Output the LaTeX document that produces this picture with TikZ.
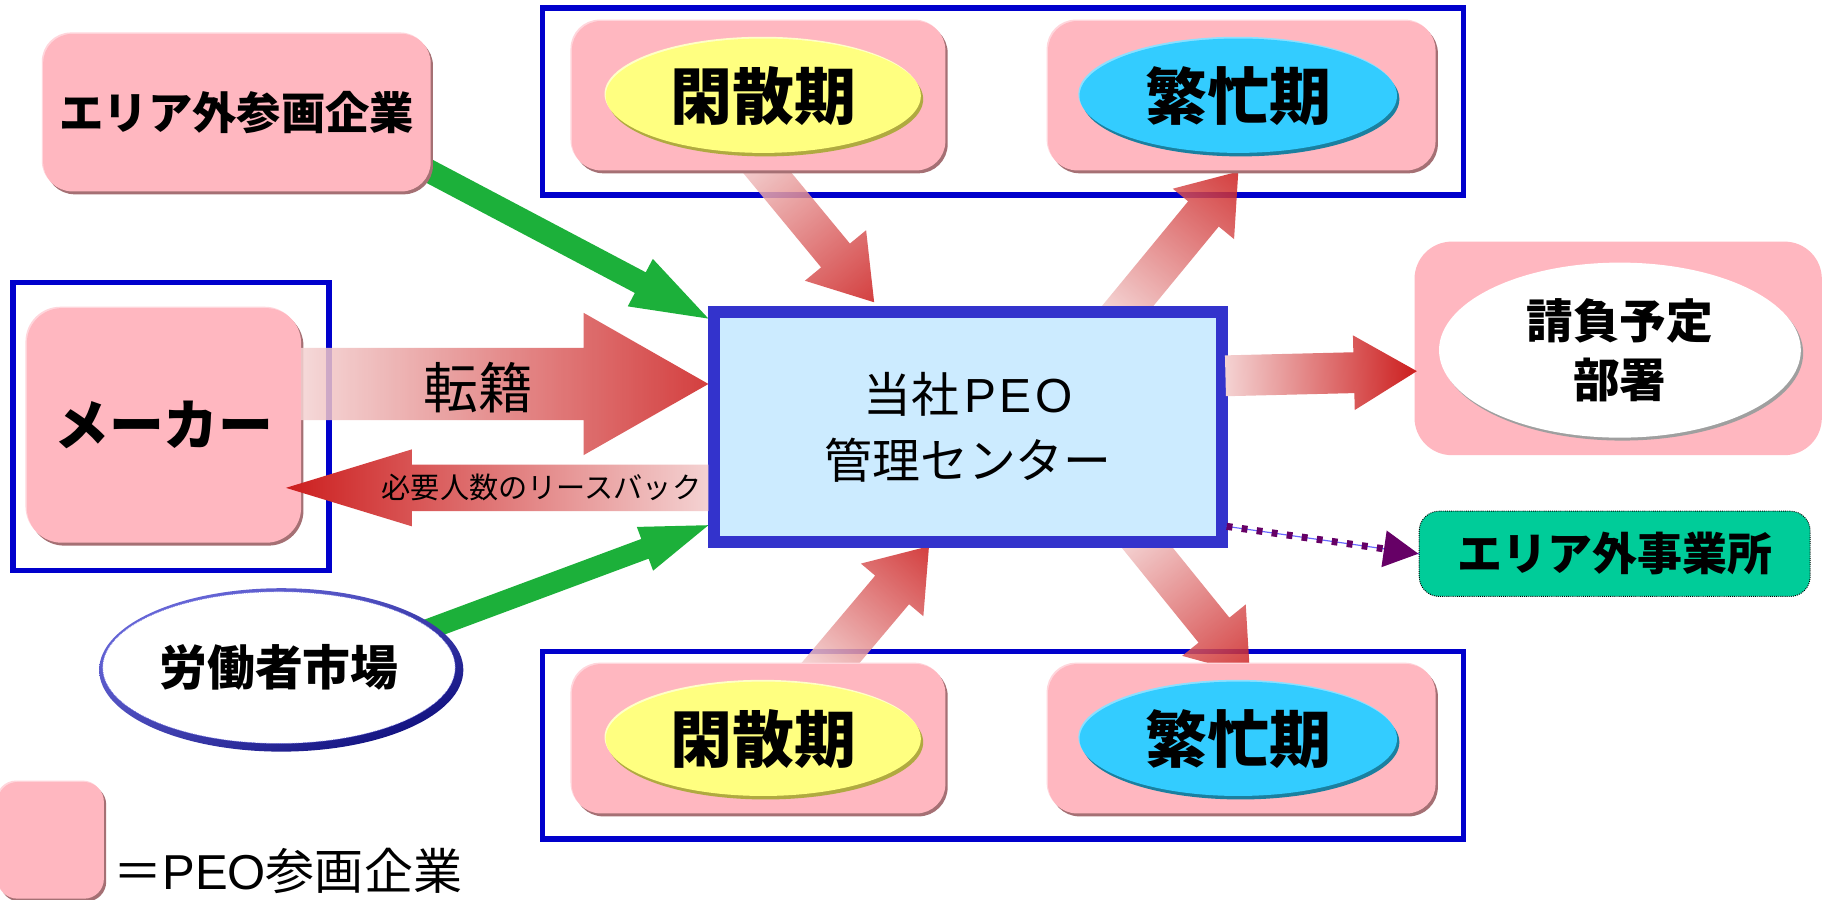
\documentclass[tikz,border=0pt]{standalone}
\usepackage{fontspec}
\newfontfamily\jp{Noto Sans CJK JP}
\newfontfamily\lat{Liberation Sans}
\usetikzlibrary{shapes.geometric,shadows,shadings,arrows.meta}
\definecolor{pk}{RGB}{255,183,192}
\definecolor{pkdark}{RGB}{165,112,116}
\definecolor{pklight}{RGB}{255,214,220}
\definecolor{frameblue}{RGB}{0,0,204}
\definecolor{cbfill}{RGB}{204,235,255}
\definecolor{cbdraw}{RGB}{51,51,204}
\definecolor{yel}{RGB}{255,255,128}
\definecolor{yeldark}{RGB}{176,170,64}
\definecolor{yellight}{RGB}{255,255,200}
\definecolor{cyn}{RGB}{51,204,255}
\definecolor{cyndark}{RGB}{26,128,160}
\definecolor{cynlight}{RGB}{140,224,255}
\definecolor{grn}{RGB}{28,176,58}
\definecolor{jg}{RGB}{0,204,153}
\definecolor{purp}{RGB}{102,0,102}
\definecolor{thinblue}{RGB}{102,102,255}
\definecolor{arlight}{RGB}{244,210,210}
\definecolor{arred}{RGB}{204,30,30}
\definecolor{navyb}{RGB}{0,0,110}
\definecolor{lblue}{RGB}{115,115,228}
\definecolor{midblue}{RGB}{69,69,181}
\newcommand\fsz[1]{\fontsize{#1pt}{#1pt}\selectfont}
\newcommand\fatarrow[6]{%
  \pgfpointdiff{\pgfpointanchor{#1}{center}}{\pgfpointanchor{#2}{center}}%
  \pgfgetlastxy{\fadx}{\fady}%
  \pgfmathsetmacro\faang{atan2(\fady,\fadx)}%
  \pgfmathsetmacro\falen{veclen(\fadx,\fady)}%
  \pgfmathsetmacro\fab{\falen-#5}%
  \begin{scope}[transform canvas={shift={(#1)},rotate=\faang}]%
    \path[#6] (0,-#3) -- (\fab,-#3) -- (\fab,-#4) -- (\falen,0) -- (\fab,#4) -- (\fab,#3) -- (0,#3) -- cycle;%
  \end{scope}}
\begin{document}
\begin{tikzpicture}[x=1pt,y=-1pt,
  pinkbox/.style={rectangle, fill=pk, inner sep=0pt, rounded corners=#1,
     general shadow={shadow xshift=2pt, shadow yshift=-2.5pt, fill=pkdark},
     general shadow={shadow xshift=-1.2pt, shadow yshift=1.2pt, fill=pklight}},
  pinkbox/.default=25pt,
  frame/.style={rectangle, draw=frameblue, line width=4.6pt, inner sep=0pt},
  yelell/.style={ellipse, fill=yel, inner sep=0pt, minimum width=270, minimum height=98,
     general shadow={shadow xshift=2pt, shadow yshift=-3pt, fill=yeldark},
     general shadow={shadow xshift=-1pt, shadow yshift=1.5pt, fill=yellight}},
  cynell/.style={ellipse, fill=cyn, inner sep=0pt, minimum width=272, minimum height=98,
     general shadow={shadow xshift=2pt, shadow yshift=-3pt, fill=cyndark},
     general shadow={shadow xshift=-1pt, shadow yshift=1.5pt, fill=cynlight}},
  bigtxt/.style={font=\jp\bfseries\fsz{53}},
  redar/.style={left color=arlight, right color=arred, opacity=0.85},
  redsolid/.style={left color=arlight, right color=arred},
  grnar/.style={fill=grn}
]
\fill[white] (0,0) rectangle (1568,771);
\useasboundingbox (0,0) rectangle (1568,771);

% group frames
\node[frame, minimum width=789, minimum height=160] (topframe) at (859.5,87) {};
\node[frame, minimum width=789, minimum height=161] (botframe) at (859.5,638.5) {};
\node[frame, minimum width=271, minimum height=247] (makerframe) at (146.5,365.5) {};

% arrow end points
\coordinate (g1s) at (340,132);  \coordinate (g1e) at (607,273);
\coordinate (g2s) at (330,553);  \coordinate (g2e) at (607,450);
\coordinate (tks) at (258,329);  \coordinate (tke) at (607,329);
\coordinate (lbs) at (607,418);  \coordinate (lbe) at (245,418);
\coordinate (uks) at (1050,322); \coordinate (uke) at (1214,318);
\coordinate (a6s) at (640,127);  \coordinate (a6e) at (749,259);
\coordinate (a7s) at (954,277);  \coordinate (a7e) at (1061,147);
\coordinate (a8s) at (699,583);  \coordinate (a8e) at (796,468);
\coordinate (a9s) at (969,452);  \coordinate (a9e) at (1071,578);
\coordinate (ds) at (1051,451);

% arrows drawn behind the boxes
\fatarrow{g1s}{g1e}{10}{23}{66}{grnar}
\fatarrow{g2s}{g2e}{9}{20}{58}{grnar}
\fatarrow{a6s}{a6e}{16}{34}{52}{redar}
\fatarrow{a7s}{a7e}{17}{34}{47}{redar}
\fatarrow{a8s}{a8e}{19}{35}{49}{redar}
\fatarrow{a9s}{a9e}{17}{35}{49}{redar}

% boxes
\node[pinkbox, minimum width=332, minimum height=135, font=\jp\bfseries\fsz{38}] (gaibu) at (203,96.5) {エリア外参画企業};
\node[pinkbox=30pt, minimum width=235, minimum height=201, font=\jp\bfseries\fsz{47}] (maker) at (140.5,364.5) {メーカー};

\node[pinkbox, minimum width=320, minimum height=128] (kanbox1) at (650,82) {};
\node[yelell, bigtxt] (kan1) at (654,82) {閑散期};
\node[pinkbox, minimum width=332, minimum height=128] (hanbox1) at (1064,82) {};
\node[cynell, bigtxt] (han1) at (1061,82) {繁忙期};

\node[pinkbox, minimum width=320, minimum height=128] (kanbox2) at (650,633) {};
\node[yelell, bigtxt] (kan2) at (654,633) {閑散期};
\node[pinkbox, minimum width=332, minimum height=128] (hanbox2) at (1064,633) {};
\node[cynell, bigtxt] (han2) at (1061,633) {繁忙期};

\node[rectangle, fill=cbfill, draw=cbdraw, line width=10pt, minimum width=435, minimum height=197,
      align=center, font={\jp\fontsize{41pt}{57pt}\selectfont}] (cbox) at (829.5,366) {当社\kern4pt{\lat P\kern3pt E\kern3pt O}\\管理センター};

\node[rectangle, fill=pk, rounded corners=32pt, minimum width=349, minimum height=183] (ukbox) at (1386.5,298.5) {};
\node[ellipse, fill=white, inner sep=0pt, minimum width=310, minimum height=150,
      general shadow={shadow xshift=2pt, shadow yshift=-2.5pt, fill=gray!75},
      align=center, font={\jp\bfseries\fontsize{40pt}{50pt}\selectfont}] (ukeoi) at (1388,300) {請負予定\\部署};

\node[rectangle, fill=jg, draw=black, densely dotted, line width=0.8pt, rounded corners=17pt,
      minimum width=335, minimum height=73, font=\jp\bfseries\fsz{38.5}] (jigyo) at (1383.5,474.5) {エリア外事業所};

\node[ellipse, inner sep=0pt, minimum width=312, minimum height=140,
      upper left=lblue, upper right=midblue, lower left=midblue, lower right=navyb] (roudouring) at (241,574) {};
\node[ellipse, fill=white, draw=lblue, densely dotted, line width=0.6pt, inner sep=0pt,
      minimum width=302, minimum height=130, font=\jp\bfseries\fsz{41}] (roudou) at (239,572) {労働者市場};

% legend
\node[pinkbox=17pt, minimum width=91, minimum height=100] (legbox) at (43.5,720) {};
\node[anchor=west, inner sep=0pt, font=\jp\fsz{42}] (legtxt) at (97,746) {＝{\lat PEO}参画企業};

% arrows drawn above the boxes
\fatarrow{tks}{tke}{31}{61}{107}{redar}
\node[font=\jp\fsz{47}] (tenseki) at (410,332) {転籍};
\fatarrow{lbs}{lbe}{20}{33}{108}{redsolid}
\node[font=\jp\fsz{25}] (lbtxt) at (464,418) {必要人数のリースバック};
\fatarrow{uks}{uke}{17.5}{32}{54}{redsolid}

\draw[thinblue, line width=1pt] (ds) -- (jigyo.west);
\draw[purp, line width=6pt, dash pattern=on 5pt off 8pt, -{Triangle[length=30pt,width=30pt]}] (ds) -- (jigyo.west);
\end{tikzpicture}
\end{document}
